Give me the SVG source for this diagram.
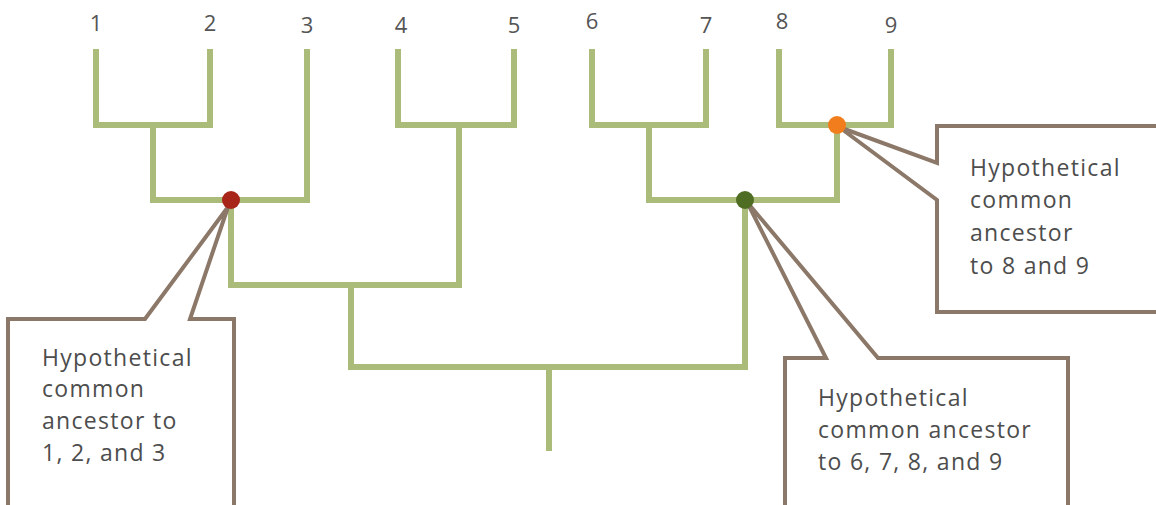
<svg xmlns="http://www.w3.org/2000/svg" width="1156" height="505" viewBox="0 0 1156 505">
<style>
.br{fill:none;stroke:#aabb7a;stroke-width:6;stroke-linecap:square;stroke-linejoin:miter}
.co{fill:#fff;stroke:#8c7868;stroke-width:4;stroke-linejoin:miter}
.num{font-family:"Open Sans",sans-serif;font-size:22px;fill:#555;text-anchor:middle}
.lb{font-family:"Open Sans",sans-serif;font-size:23px;letter-spacing:1.3px;fill:#4d4d4d}
</style>
<rect width="1156" height="505" fill="#fff"/>
<g id="connectors">
<path class="br" d="M96,52V125H210V52"/>
<path class="br" d="M153,125V200H307V52"/>
<path class="br" d="M398,52V125H514V52"/>
<path class="br" d="M459,125V285H231V200"/>
<path class="br" d="M351,285V367H745V200"/>
<path class="br" d="M549,367V448"/>
<path class="br" d="M592,52V125H706V52"/>
<path class="br" d="M649,125V200H837V125"/>
<path class="br" d="M779,52V125H891V52"/>
</g>
<g id="labels">
<text class="num" x="96" y="31">1</text>
<text class="num" x="210" y="31">2</text>
<text class="num" x="307" y="33">3</text>
<text class="num" x="401" y="33">4</text>
<text class="num" x="514" y="33">5</text>
<text class="num" x="592" y="29">6</text>
<text class="num" x="706" y="33">7</text>
<text class="num" x="782" y="29">8</text>
<text class="num" x="891" y="33">9</text>
</g>
<g id="callout-123">
<path class="co" d="M8,510V319H145L228,207L190,319H234V510"/>
<text class="lb" x="42" y="366">Hypothetical</text>
<text class="lb" x="42" y="397">common</text>
<text class="lb" x="42" y="429">ancestor to</text>
<text class="lb" x="42" y="461">1, 2, and 3</text>
</g>
<g id="callout-6789">
<path class="co" d="M785,510V358H826L747,202L878,358H1068V510"/>
<text class="lb" x="818" y="406">Hypothetical</text>
<text class="lb" x="818" y="438">common ancestor</text>
<text class="lb" x="818" y="470">to 6, 7, 8, and 9</text>
</g>
<g id="callout-89">
<path class="co" d="M1160,126H937V163L839,127L937,200V312H1160"/>
<text class="lb" x="970" y="176">Hypothetical</text>
<text class="lb" x="970" y="208">common</text>
<text class="lb" x="970" y="241">ancestor</text>
<text class="lb" x="970" y="274">to 8 and 9</text>
</g>
<g id="nodes">
<circle id="node-123" cx="231" cy="200" r="9" fill="#a8251a"/>
<circle id="node-6789" cx="745" cy="200" r="9" fill="#4f6e24"/>
<circle id="node-89" cx="837" cy="125" r="9" fill="#f27d1c"/>
</g>
</svg>
